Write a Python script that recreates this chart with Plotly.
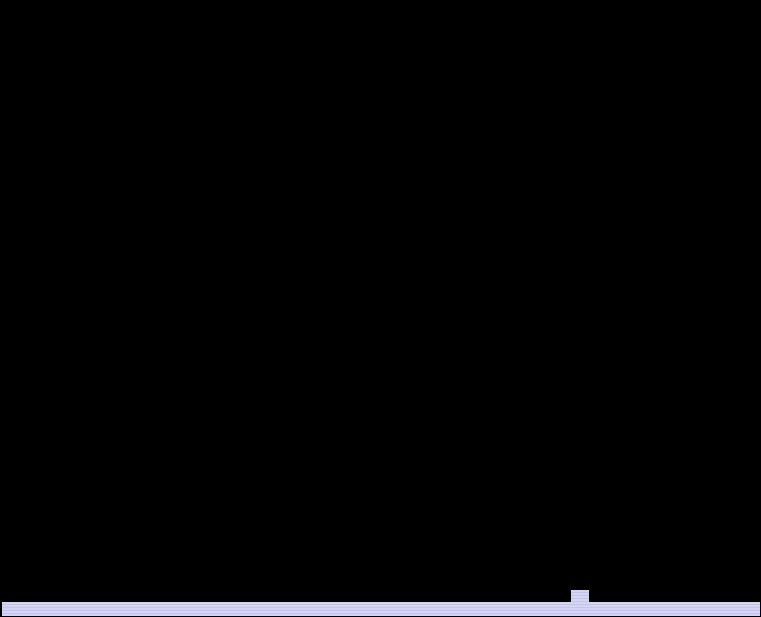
import plotly.graph_objects as go

categories = [str(i) for i in range(1, 41)]
values = [1, 1, 1, 1, 1, 1, 1, 1, 1, 1,
          1, 1, 1, 1, 1, 1, 1, 1, 1, 1,
          1, 1, 1, 1, 1, 1, 1, 1, 1, 1,
          1.86, 1, 1, 1, 1, 1, 1, 1, 1, 1]

fig = go.Figure(go.Bar(
    x=categories,
    y=values,
    marker=dict(
        color="#d4d4f4",
        line=dict(width=0),
        pattern=dict(shape="-", fgcolor="#b3b3de", bgcolor="#d4d4f4",
                     size=3, solidity=0.35, fillmode="overlay"),
    ),
    showlegend=False,
    hoverinfo="skip",
))

fig.update_layout(
    width=761, height=617,
    margin=dict(l=0, r=0, t=0, b=0),
    paper_bgcolor="black",
    plot_bgcolor="black",
    bargap=0,
    xaxis=dict(visible=False, range=[-0.606, 39.553]),
    yaxis=dict(visible=False, range=[-0.07, 44]),
)

fig.write_html(
    "out.html",
    config={"displayModeBar": False},
    post_script="document.body.style.margin='0';document.body.style.background='black';document.body.style.overflow='hidden';",
)
